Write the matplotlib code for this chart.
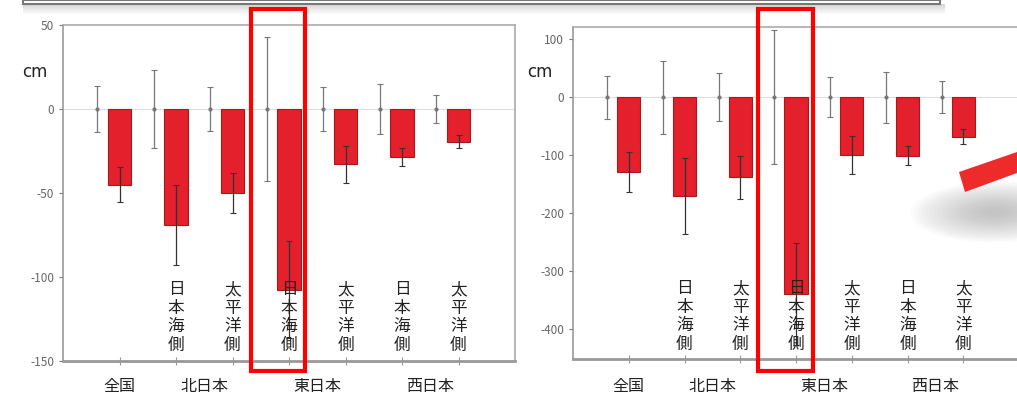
import matplotlib
matplotlib.use("Agg")
import matplotlib.pyplot as plt
import matplotlib.patches as mpatches
import matplotlib.transforms as mtransforms
import numpy as np

plt.rcParams['font.family'] = ['Noto Sans CJK JP', 'DejaVu Sans']
plt.rcParams['axes.unicode_minus'] = False

# ---- data ----
categories = ["全国", "北日本 日本海側", "北日本 太平洋側", "東日本 日本海側",
              "東日本 太平洋側", "西日本 日本海側", "西日本 太平洋側"]
side_labels = ["", "日本海側", "太平洋側", "日本海側", "太平洋側", "日本海側", "太平洋側"]
group_labels = ["全国", "北日本", "東日本", "西日本"]
group_pos = [0, 1.5, 3.5, 5.5]

left_values = [-45, -69, -50, -107.5, -33, -28.5, -19.5]
left_err = [10.5, 24, 12, 29, 11, 5.5, 4]
left_zero_spread = [13.5, 23, 13, 43, 13, 15, 8.5]
left_ticks = [50, 0, -50, -100, -150]

right_values = [-129, -171, -138, -340, -100, -101, -68]
right_err = [34, 66, 37, 88, 33, 16, 13]
right_zero_spread = [37, 63, 41, 116, 35, 44, 27]
right_ticks = [100, 0, -100, -200, -300, -400]

W, H = 1017, 394
fig = plt.figure(figsize=(W / 100, H / 100), dpi=100)
fig.patch.set_facecolor("white")


def fx(px):
    return px / W


def fy(py):
    return 1 - py / H


def make_panel(rect, values, err, spread, ylim, ticks, labels_y_top):
    ax = fig.add_axes(rect)
    ax.set_facecolor("white")
    x = np.arange(len(values))
    ax.axhline(0, color="#dddddd", lw=0.8, zorder=0)
    ax.bar(x, values, width=0.42, color="#e3202b", edgecolor="#a81a1a",
           linewidth=0.8, zorder=2)
    ax.errorbar(x, values, yerr=err, fmt="none", ecolor="#333333",
                elinewidth=0.9, capsize=2, capthick=0.8, zorder=3)
    xz = x - 0.39
    ax.errorbar(xz, np.zeros(len(values)), yerr=spread, fmt="o", ms=2,
                color="#777777", ecolor="#777777", elinewidth=0.9,
                capsize=2, capthick=0.8, zorder=3)
    ax.set_xlim(-1, 7)
    ax.set_ylim(*ylim)
    ax.set_yticks(ticks)
    ax.set_yticklabels([str(t) for t in ticks])
    ax.tick_params(axis="y", colors="#777777", labelcolor="#666666",
                   labelsize=8.5, length=3, direction="out")
    ax.set_xticks(x)
    ax.set_xticklabels([])
    ax.tick_params(axis="x", colors="#999999", length=6, direction="inout")
    for s in ax.spines.values():
        s.set_color("#aaaaaa")
        s.set_linewidth(1.2)
    ax.spines["left"].set_color("#999999")
    ax.spines["bottom"].set_color("#999999")
    ax.spines["bottom"].set_linewidth(2)
    tr = mtransforms.blended_transform_factory(ax.transData, ax.transAxes)
    for i, lab in enumerate(side_labels):
        if lab:
            ax.text(i, labels_y_top, "\n".join(lab), transform=tr,
                    ha="center", va="top", fontsize=12, linespacing=1.12,
                    color="#222222", zorder=5)
    trans = mtransforms.blended_transform_factory(ax.transData, fig.transFigure)
    for gx, gl in zip(group_pos, group_labels):
        ax.text(gx, fy(386), gl, transform=trans, ha="center", va="center",
                fontsize=11.5, color="#222222", clip_on=False)
    return ax


axL = make_panel([fx(63), fy(361), fx(515) - fx(63), fy(25) - fy(361)],
                 left_values, left_err, left_zero_spread, (-150, 50), left_ticks, 0.238)
axR = make_panel([fx(573), fy(359), fx(1019) - fx(573), fy(27) - fy(359)],
                 right_values, right_err, right_zero_spread, (-452, 121), right_ticks, 0.238)

fig.text(fx(35), fy(72), "cm", ha="center", va="center", fontsize=12,
         family=["DejaVu Sans"], color="#222222")
fig.text(fx(540), fy(72), "cm", ha="center", va="center", fontsize=12,
         family=["DejaVu Sans"], color="#222222")

# highlight rectangles
for x0, x1 in [(251, 305), (758, 813)]:
    fig.patches.append(mpatches.Rectangle((fx(x0), fy(371)), fx(x1) - fx(x0),
                                          fy(9) - fy(371), transform=fig.transFigure,
                                          fill=False, edgecolor="#ff0000", linewidth=3.0,
                                          zorder=10))

# top box edge with shadow
for k in range(10):
    fig.patches.append(mpatches.Rectangle((fx(23), fy(4 + k + 1)), fx(945) - fx(23),
                                          fy(4 + k) - fy(4 + k + 1), transform=fig.transFigure,
                                          facecolor="#888888", edgecolor="none",
                                          alpha=0.35 * (1 - k / 10), zorder=9))
fig.patches.append(mpatches.Rectangle((fx(23), fy(4)), fx(940) - fx(23), fy(0) - fy(4),
                                      transform=fig.transFigure, facecolor="white",
                                      edgecolor="#777777", linewidth=1.5, zorder=9))

# pen decoration shadow and body
for k in range(20):
    sc = 1 - k / 22
    e = mpatches.Ellipse((fx(995), fy(212)), fx(170 * sc), (fy(0) - fy(60 * sc)),
                         angle=15, transform=fig.transFigure,
                         facecolor="#9a9a9a", edgecolor="none", alpha=0.035, zorder=8)
    fig.patches.append(e)
pen = mpatches.Polygon([(fx(959), fy(172)), (fx(1017), fy(152)), (fx(1017), fy(173)),
                        (fx(965), fy(192))], closed=True, transform=fig.transFigure,
                       facecolor="#ee2b2b", edgecolor="none", zorder=9)
fig.patches.append(pen)

fig.savefig("out.png", dpi=100)
